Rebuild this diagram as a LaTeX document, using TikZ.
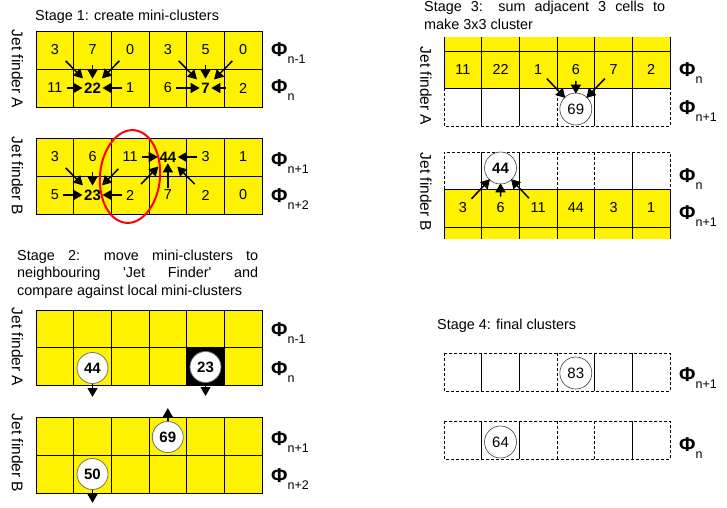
\documentclass[tikz,border=0pt]{standalone}
\usepackage{fontspec}
\setmainfont{Liberation Sans}
\usetikzlibrary{arrows,calc,positioning}

\newcommand{\setpt}[1]{\fontsize{#1}{#1}\selectfont}
\newcommand{\philab}[1]{{\setpt{20}\bfseries Φ}\raisebox{-7pt}{\setpt{12.5}#1}}
\def\cw{37.67}

\tikzset{
  cell/.style={draw=black, line width=1pt, fill=yellow},
  sline/.style={line width=1pt},
  dline/.style={line width=1pt, dash pattern=on 3pt off 2pt},
  val/.style={font=\setpt{14.4}, inner sep=1pt},
  peak/.style={font=\setpt{15}\bfseries, inner sep=1pt},
  ball/.style={circle, draw=black!55, line width=0.8pt, fill=white, minimum size=31pt, inner sep=0pt, font=\setpt{15}\bfseries},
  ring/.style={circle, draw=black!75, line width=0.6pt, fill=white, minimum size=32pt, inner sep=0pt, font=\setpt{15}},
  feed/.style={->, line width=1.5pt},
  dfeed/.style={feed, shorten <=8pt, shorten >=4.5pt},
  vfeed/.style={feed, shorten <=9pt, shorten >=3pt},
  hfeed/.style={feed, shorten <=3pt, shorten >=0.5pt},
  cfeed/.style={feed, shorten <=5pt, shorten >=-1pt},
  drop/.style={->, line width=1.4pt},
  title/.style={anchor=base west, inner sep=0pt, font=\fontsize{14.4}{17.5}\selectfont},
  jetlab/.style={rotate=-90, inner sep=0pt, font=\setpt{15.5}},
  phinode/.style={anchor=base west, inner sep=0pt}
}

\begin{document}
\begin{tikzpicture}[x=1pt, y=-1pt, >=triangle 60]
\useasboundingbox (0,0) rectangle (727,507);

% stage 1
\node[title] (t1) at (35,20) {Stage 1: create mini-clusters};
\foreach \ytop in {31,138}
  \foreach \row in {0,1}
    \foreach \col in {0,...,5}
      \draw[cell] (36+\cw*\col,\ytop+38*\row) rectangle ++(\cw,38);
\foreach \v [count=\col from 0] in {3,7,0,3,5,0}
  \node[val] (a0-\col) at (36+\cw*\col+\cw/2,50) {\v};
\foreach \v/\s [count=\col from 0] in {11/val,22/peak,1/val,6/val,7/peak,2/val}
  \node[\s] (a1-\col) at (36+\cw*\col+\cw/2,88) {\v};
\foreach \v/\s [count=\col from 0] in {3/val,6/val,11/val,44/peak,3/val,1/val}
  \node[\s] (b0-\col) at (36+\cw*\col+\cw/2,157) {\v};
\foreach \v/\s [count=\col from 0] in {5/val,23/peak,2/val,7/val,2/val,0/val}
  \node[\s] (b1-\col) at (36+\cw*\col+\cw/2,195) {\v};

\foreach \s in {a0-0,a0-2} \draw[dfeed] (\s) -- (a1-1);
\draw[vfeed] (a0-1) -- (a1-1);
\foreach \s in {a1-0,a1-2} \draw[hfeed] (\s) -- (a1-1);
\foreach \s in {a0-3,a0-5} \draw[dfeed] (\s) -- (a1-4);
\draw[vfeed] (a0-4) -- (a1-4);
\draw[hfeed] (a1-3) -- (a1-4);
\draw[hfeed, shorten <=12pt] (a1-5) -- (a1-4);

\foreach \s in {b0-0,b0-2} \draw[dfeed] (\s) -- (b1-1);
\draw[vfeed] (b0-1) -- (b1-1);
\foreach \s in {b1-0,b1-2} \draw[hfeed] (\s) -- (b1-1);
\foreach \s in {b1-2,b1-4} \draw[dfeed] (\s) -- (b0-3);
\draw[vfeed, shorten <=1pt, shorten >=0pt] (b1-3) -- (b0-3);
\foreach \s in {b0-2,b0-4} \draw[hfeed] (\s) -- (b0-3);

\draw[red, line width=2pt, rotate around={-5:(130,176.5)}] (130,176.5) ellipse [x radius=30, y radius=46.5];

\node[phinode] (p1a) at (271,56) {\philab{n-1}};
\node[phinode] (p1b) at (271,93.5) {\philab{n}};
\node[phinode] (p1c) at (271,166.5) {\philab{n+1}};
\node[phinode] (p1d) at (271,202.5) {\philab{n+2}};
\node[jetlab] (j1a) at (17.5,69) {Jet finder A};
\node[jetlab] (j1b) at (17.5,176) {Jet finder B};

% stage 2
\node[title, text width=241pt, align=justify] (t2) at (17,260)
  {Stage 2: move mini-clusters to\linebreak neighbouring \textquotesingle Jet Finder\textquotesingle{} and\linebreak compare against local mini-clusters};
\foreach \ytop/\h in {310/37.5,417/38}
  \foreach \row in {0,1}
    \foreach \col in {0,...,5}
      \draw[cell] (36+\cw*\col,\ytop+\h*\row) rectangle ++(\cw,\h);
\draw[cell, fill=black] (36+4*\cw,347.5) rectangle ++(\cw,37.5);
\node[ball] (m44) at (92.5,368) {44};
\node[ball] (m23) at (205.5,367) {23};
\node[ball] (m69) at (167.8,437) {69};
\node[ball] (m50) at (92.5,474) {50};
\coordinate[below=13pt of m44] (m44d);
\coordinate[below=13pt of m23] (m23d);
\coordinate[above=13pt of m69] (m69u);
\coordinate[below=13pt of m50] (m50d);
\draw[drop] (m44) -- (m44d);
\draw[drop] (m23) -- (m23d);
\draw[drop] (m69) -- (m69u);
\draw[drop] (m50) -- (m50d);

\node[phinode] (p2a) at (271,336.5) {\philab{n-1}};
\node[phinode] (p2b) at (271,375) {\philab{n}};
\node[phinode] (p2c) at (271,445) {\philab{n+1}};
\node[phinode] (p2d) at (271,482) {\philab{n+2}};
\node[jetlab] (j2a) at (17.5,347) {Jet finder A};
\node[jetlab] (j2b) at (17.5,453) {Jet finder B};

% stage 3
\node[title, text width=241pt, align=justify] (t3) at (424,11.7)
  {Stage 3: sum adjacent 3 cells to\linebreak make 3x3 cluster};
\fill[yellow] (444,37) rectangle (670,51);
\foreach \col in {0,...,6} \draw[sline] (444+\cw*\col,37) -- ++(0,14);
\foreach \col in {0,...,5} \draw[cell] (444+\cw*\col,51) rectangle ++(\cw,37);
\draw[dline] (444,88) -- (444,126) -- (670,126) -- (670,88);
\foreach \col/\st in {1/sline,2/sline,3/dline,4/sline,5/sline}
  \draw[\st] (444+\cw*\col,88) -- ++(0,38);
\foreach \v [count=\col from 0] in {11,22,1,6,7,2}
  \node[val] (c-\col) at (444+\cw*\col+\cw/2,69.5) {\v};
\node[ring] (s69) at (575.8,109) {69};
\foreach \s in {c-2,c-3,c-4} \draw[cfeed] (\s) -- (s69);

\draw[dline] (444,189) -- (444,152) -- (670,152) -- (670,189);
\foreach \col/\st in {1/sline,2/sline,3/dline,4/dline,5/sline}
  \draw[\st] (444+\cw*\col,152) -- ++(0,37);
\foreach \col in {0,...,5} \draw[cell] (444+\cw*\col,189) rectangle ++(\cw,38);
\fill[yellow] (444,227.5) rectangle (670,239);
\foreach \col in {0,...,6} \draw[sline] (444+\cw*\col,227) -- ++(0,12);
\foreach \v [count=\col from 0] in {3,6,11,44,3,1}
  \node[val] (e-\col) at (444+\cw*\col+\cw/2,208) {\v};
\node[ring, font=\setpt{15}\bfseries] (s44) at (500.5,168) {44};
\foreach \s in {e-0,e-1,e-2} \draw[cfeed] (\s) -- (s44);

\node[phinode] (p3a) at (679,76.5) {\philab{n}};
\node[phinode] (p3b) at (679,114) {\philab{n+1}};
\node[phinode] (p3c) at (679,182) {\philab{n}};
\node[phinode] (p3d) at (679,219) {\philab{n+1}};
\node[jetlab] (j3a) at (426,86) {Jet finder A};
\node[jetlab] (j3b) at (426,192) {Jet finder B};

% stage 4
\node[title] (t4) at (437,329) {Stage 4: final clusters};
\draw[dline] (444,353) rectangle (670,391);
\foreach \col/\st in {1/sline,2/sline,3/dline,4/sline,5/sline}
  \draw[\st] (444+\cw*\col,353) -- ++(0,38);
\draw[dline] (444,421) rectangle (670,459);
\foreach \col/\st in {1/sline,2/sline,3/dline,4/dline,5/sline}
  \draw[\st] (444+\cw*\col,421) -- ++(0,38);
\node[ring] (f83) at (575.8,373) {83};
\node[ring] (f64) at (500.5,442) {64};
\node[phinode] (p4a) at (679,381.5) {\philab{n+1}};
\node[phinode] (p4b) at (679,451.5) {\philab{n}};
\end{tikzpicture}
\end{document}
